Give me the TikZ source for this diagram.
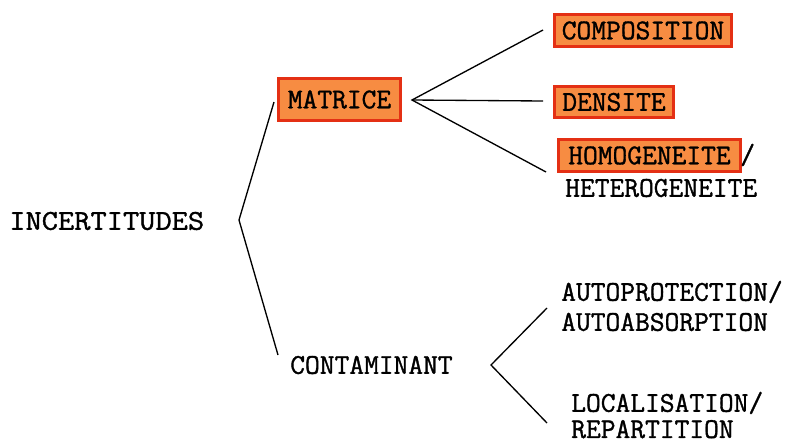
\documentclass[tikz,border=0pt]{standalone}
\usepackage{fontspec}
\newfontfamily\courf[FakeBold=1.2]{Latin Modern Mono}
\definecolor{boxfill}{RGB}{247,140,66}
\definecolor{boxline}{RGB}{228,48,20}
\begin{document}
\begin{tikzpicture}[x=0.75pt,y=-0.75pt,
  lbl/.style={inner sep=0pt,font=\courf\fontsize{21.5}{24}\selectfont,text=black},
  hbox/.style={lbl,draw=boxline,fill=boxfill,line width=2.4pt},
  conn/.style={draw=black,line width=1pt}]
\useasboundingbox (0,0) rectangle (793,443);
% texts
\node[lbl,anchor=west,xscale=1.1] (inc) at (9,221) {INCERTITUDES};
\node[hbox,minimum width=125*0.75pt-2.4pt,minimum height=45*0.75pt-2.4pt] (mat) at (339.5,99.5) {MATRICE};
\node[hbox,minimum width=180*0.75pt-2.4pt,minimum height=35*0.75pt-2.4pt] (comp) at (643,30.5) {COMPOSITION};
\node[hbox,minimum width=122*0.75pt-2.4pt,minimum height=34*0.75pt-2.4pt] (dens) at (614,102) {DENSITE};
\node[hbox,minimum width=185*0.75pt-2.4pt,minimum height=35*0.75pt-2.4pt] (homo) at (649.5,155.5) {HOMOGENEITE};
\node[lbl,anchor=west] (slash) at (740,155) {/};
\node[lbl,anchor=west] (hetero) at (565,188) {HETEROGENEITE};
\node[lbl,anchor=west] (cont) at (290,365) {CONTAMINANT};
\node[lbl,anchor=west] (auto1) at (561,292) {AUTOPROTECTION/};
\node[lbl,anchor=west] (auto2) at (561,322) {AUTOABSORPTION};
\node[lbl,anchor=west] (loc1) at (571,403) {LOCALISATION/};
\node[lbl,anchor=west,text depth=0pt] (loc2) at (571,429) {REPARTITION};
% connector points
\coordinate (bt) at (274,102);
\coordinate (bm) at (239,220);
\coordinate (bb) at (278,355);
\coordinate (mf) at (412,100);
\coordinate (mc) at (543,30);
\coordinate (md) at (543,101);
\coordinate (mh) at (546,172);
\coordinate (cf) at (491,365);
\coordinate (ca) at (547,308);
\coordinate (cl) at (547,423);
% connectors
\draw[conn] (bt) -- (bm) -- (bb);
\draw[conn] (mc) -- (mf) -- (mh);
\draw[conn] (mf) -- (md);
\draw[conn] (ca) -- (cf) -- (cl);
\end{tikzpicture}
\end{document}
